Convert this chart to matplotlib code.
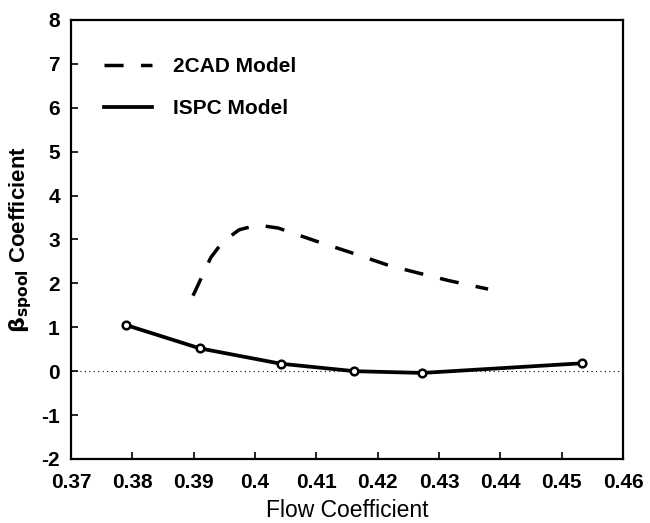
import matplotlib
matplotlib.use("Agg")
import matplotlib.pyplot as plt

plt.rcParams['font.family'] = ['Liberation Sans', 'DejaVu Sans']
plt.rcParams['axes.unicode_minus'] = False

# ISPC model
ispc_x = [0.3790, 0.3910, 0.4042, 0.4162, 0.4273, 0.4533]
ispc_y = [1.05, 0.52, 0.17, 0.00, -0.04, 0.18]

# 2CAD model curve
cad_x = [0.3899, 0.3914, 0.3928, 0.3947, 0.3974, 0.4004, 0.4038, 0.4098,
         0.4159, 0.4220, 0.4285, 0.4317, 0.4380]
cad_y = [1.72, 2.17, 2.59, 2.94, 3.22, 3.33, 3.26, 2.97,
         2.69, 2.40, 2.17, 2.06, 1.87]

x_ticks = [0.37, 0.38, 0.39, 0.40, 0.41, 0.42, 0.43, 0.44, 0.45, 0.46]
x_labels = ['0.37', '0.38', '0.39', '0.4', '0.41', '0.42', '0.43', '0.44', '0.45', '0.46']
y_ticks = list(range(-2, 9))

fig = plt.figure(figsize=(6.5, 5.23), dpi=100)
ax = fig.add_axes([0.1092, 0.1224, 0.8493, 0.8394])

# linea dello zero
ax.axhline(0, color='black', lw=0.8, ls=(0, (1, 3)), zorder=1)

ax.plot(cad_x, cad_y, color='black', lw=2.5, dashes=(5.5, 5), label='2CAD Model')
ax.plot(ispc_x, ispc_y, color='black', lw=2.7, label='ISPC Model')
ax.plot(ispc_x, ispc_y, 'o', ms=5.5, mfc='white', mec='black', mew=1.8)

ax.set_xlim(0.37, 0.46)
ax.set_ylim(-2, 8)
ax.set_xticks(x_ticks)
ax.set_xticklabels(x_labels)
ax.set_yticks(y_ticks)
ax.tick_params(direction='in', length=5, width=1.2, labelsize=15, pad=8)
ax.tick_params(axis='x', pad=10)
for lab in ax.get_xticklabels() + ax.get_yticklabels():
    lab.set_fontweight('bold')
for s in ax.spines.values():
    s.set_linewidth(1.6)

ax.set_xlabel('Flow Coefficient', fontsize=16.5, labelpad=5)
ax.set_ylabel(r'$\mathbf{\beta_{spool}}$ Coefficient', fontsize=16, fontweight='bold', labelpad=5)

leg = ax.legend(loc='upper left', bbox_to_anchor=(0.06, 0.915), frameon=False,
                handlelength=2.3, handletextpad=1.0, labelspacing=1.1,
                borderpad=0, borderaxespad=0,
                prop={'size': 15, 'weight': 'bold'})

fig.savefig('out.png', dpi=100)
